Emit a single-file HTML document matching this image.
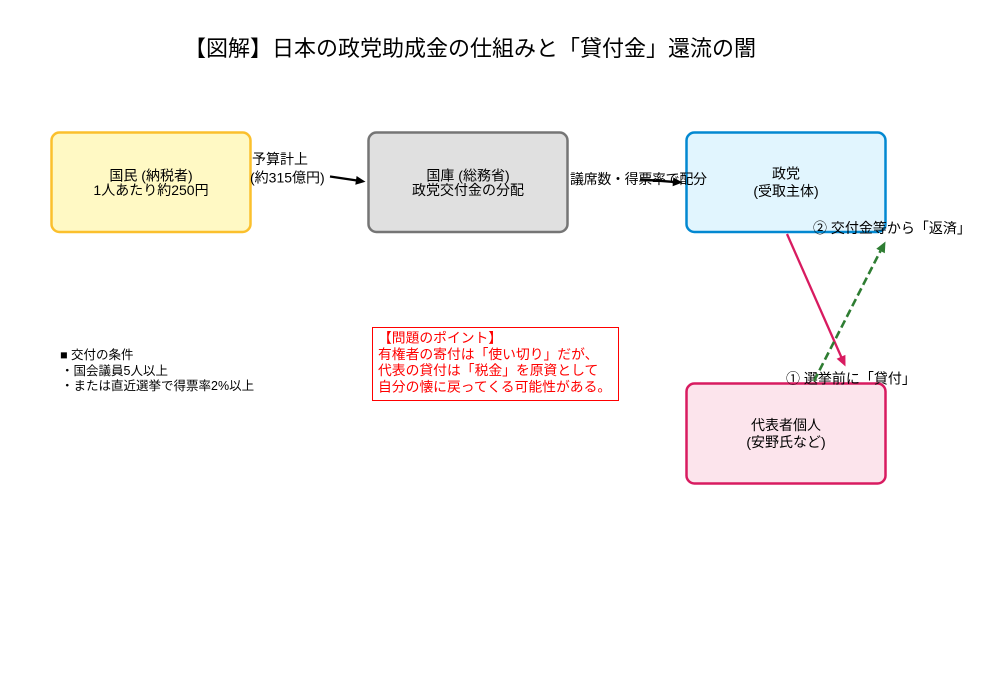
<!DOCTYPE html>
<html><head><meta charset="utf-8"><style>
html,body{margin:0;padding:0;background:#fff;}
svg{display:block;}
text{font-family:"Liberation Sans","Noto Sans CJK JP",sans-serif;}
</style></head><body>
<svg width="1000" height="700" viewBox="0 0 1000 700" xmlns="http://www.w3.org/2000/svg">
<rect width="1000" height="700" fill="#fff"/>
<text x="470" y="48.5" font-size="22" text-anchor="middle" dominant-baseline="central" fill="#000">【図解】日本の政党助成金の仕組みと「貸付金」還流の闇</text>

<rect x="51.5" y="132.5" width="199" height="99.5" rx="8" fill="#fff9c4" stroke="#fbc02d" stroke-width="2.5"/>
<rect x="368.5" y="132.5" width="199" height="99.5" rx="8" fill="#e0e0e0" stroke="#757575" stroke-width="2.5"/>
<rect x="686.5" y="132.5" width="199" height="99.5" rx="8" fill="#e1f5fe" stroke="#0288d1" stroke-width="2.5"/>
<rect x="686.5" y="383.5" width="199" height="100" rx="8" fill="#fce4ec" stroke="#d81b60" stroke-width="2.5"/>

<g font-size="14" text-anchor="middle" dominant-baseline="central" fill="#000">
<text x="151" y="175.5">国民 (納税者)</text>
<text x="151" y="190">1人あたり約250円</text>
<text x="468" y="175.5">国庫 (総務省)</text>
<text x="468" y="190">政党交付金の分配</text>
<text x="786" y="173.5">政党</text>
<text x="786" y="191">(受取主体)</text>
<text x="786" y="425">代表者個人</text>
<text x="786" y="442">(安野氏など)</text>
</g>

<g font-size="14" dominant-baseline="central" fill="#000">
<text x="252" y="159">予算計上</text>
<text x="250" y="177.5">(約315億円)</text>
<text x="570" y="179" textLength="137">議席数・得票率で配分</text>
<text x="813" y="228">② 交付金等から「返済」</text>
<text x="786" y="378.5">① 選挙前に「貸付」</text>
</g>

<!-- arrows -->
<line x1="330" y1="176.5" x2="357" y2="180.5" stroke="#000" stroke-width="2.4"/>
<polygon points="365.5,181.8 355.3,184.8 356.6,176" fill="#000"/>
<line x1="640" y1="179.3" x2="674" y2="181.9" stroke="#000" stroke-width="2.4"/>
<polygon points="682.5,182.5 672.6,186.2 673.3,177.4" fill="#000"/>

<line x1="787" y1="234" x2="841.5" y2="357.5" stroke="#d81b60" stroke-width="2.3"/>
<polygon points="845.5,366.5 836.6,358.8 845.4,354.9" fill="#d81b60"/>

<line x1="814" y1="381" x2="880.5" y2="250.9" stroke="#2e7d32" stroke-width="2.6" stroke-dasharray="8,4"/>
<polygon points="885.5,241.5 884.8,253.2 876.3,248.8" fill="#2e7d32"/>

<g font-size="12.5" dominant-baseline="central" fill="#000">
<text x="60" y="355">■ 交付の条件</text>
<text x="61" y="371">・国会議員5人以上</text>
<text x="61" y="386">・または直近選挙で得票率2%以上</text>
</g>

<rect x="372.5" y="327.5" width="246" height="73" fill="#fff" stroke="#ff0000" stroke-width="1"/>
<g font-size="13.8" dominant-baseline="central" fill="#ff0000">
<text x="378" y="338">【問題のポイント】</text>
<text x="378" y="354.5">有権者の寄付は「使い切り」だが、</text>
<text x="378" y="370.5">代表の貸付は「税金」を原資として</text>
<text x="378" y="387">自分の懐に戻ってくる可能性がある。</text>
</g>
</svg>
</body></html>
